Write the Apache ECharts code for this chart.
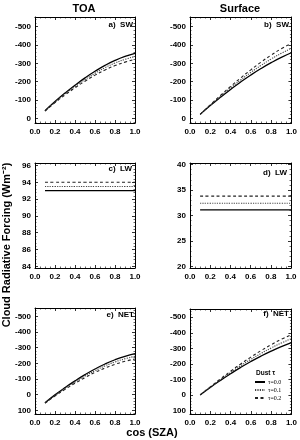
<!DOCTYPE html>
<html>
<head>
<meta charset="utf-8">
<script src="https://cdn.jsdelivr.net/npm/echarts@6/dist/echarts.min.js"></script>
<style>
  html, body { margin: 0; padding: 0; background: #fff; }
  #chart { width: 300px; height: 440px; }
</style>
</head>
<body>
<div id="chart"></div>
<script>
// 云辐射强迫随 cos(SZA) 的变化，三种沙尘光学厚度
const XS = [0.1, 0.2, 0.3, 0.4, 0.5, 0.6, 0.7, 0.8, 0.9, 1.0];
const TAU = ['τ=0.0', 'τ=0.1', 'τ=0.2'];

const SW_TOA = [
  [-42, -92, -138, -181, -221, -257, -289, -316, -338, -355],
  [-41, -89, -133, -174, -212, -246, -277, -302, -322, -338],
  [-40, -86, -128, -167, -203, -236, -264, -288, -307, -322],
];
const SW_SFC = [
  [-22, -70, -115, -158, -199, -237, -272, -304, -333, -358],
  [-22, -72, -120, -166, -210, -251, -289, -324, -355, -383],
  [-22, -74, -125, -174, -221, -265, -307, -345, -380, -410],
];
const LW_TOA = [
  [93.0, 93.0, 93.0, 93.0, 93.0, 93.0, 93.0, 93.0, 93.0, 93.0],
  [93.5, 93.5, 93.5, 93.5, 93.5, 93.5, 93.5, 93.5, 93.5, 93.5],
  [94.0, 94.0, 94.0, 94.0, 94.0, 94.0, 94.0, 94.0, 94.0, 94.0],
];
const LW_SFC = [
  [31.1, 31.1, 31.1, 31.1, 31.1, 31.1, 31.1, 31.1, 31.1, 31.1],
  [32.4, 32.4, 32.4, 32.4, 32.4, 32.4, 32.4, 32.4, 32.4, 32.4],
  [33.8, 33.8, 33.8, 33.8, 33.8, 33.8, 33.8, 33.8, 33.8, 33.8],
];
const NET_TOA = [
  [51, 1, -45, -88, -128, -164, -196, -223, -245, -262],
  [53, 5, -40, -81, -119, -153, -184, -209, -229, -245],
  [54, 8, -34, -73, -109, -142, -170, -194, -213, -228],
];
const NET_SFC = [
  [0, -48, -93, -136, -177, -215, -250, -282, -311, -337],
  [0, -50, -98, -144, -188, -229, -267, -302, -334, -362],
  [0, -52, -103, -152, -199, -243, -285, -323, -358, -388],
];

const X_TICKS = [0, 1, 0.2];

// 面板布局与纵轴范围
const panels = [
  { data: SW_TOA,  label: 'a)  SW',  y: [-553, 25],    split: 5, step: 100, inverse: true,
    grid: { left: 35, top: 17, width: 100, height: 106 }, lab: [133, 25] },
  { data: SW_SFC,  label: 'b)  SW',  y: [-553, 25],    split: 5, step: 100, inverse: true,
    grid: { left: 190, top: 17, width: 102, height: 106 }, lab: [289, 25] },
  { data: LW_TOA,  label: 'c)  LW',  y: [83.8, 96.3],  split: 6, step: 2, inverse: false,
    grid: { left: 35, top: 163, width: 100, height: 105 }, lab: [132, 169] },
  { data: LW_SFC,  label: 'd)  LW',  y: [19.7, 40.3],  split: 4, step: 5, inverse: false,
    grid: { left: 190, top: 163, width: 101, height: 105 }, lab: [287, 173] },
  { data: NET_TOA, label: 'e)  NET', y: [-553, 123],   split: 6, step: 100, inverse: true,
    grid: { left: 35, top: 308, width: 100, height: 106 }, lab: [134, 315] },
  { data: NET_SFC, label: 'f)  NET', y: [-553, 123],   split: 6, step: 100, inverse: true,
    grid: { left: 190, top: 309, width: 102, height: 105 }, lab: [289, 314] },
];

const LINE_TYPES = ['solid', [1.2, 1.2], [3, 2.5]];
const LINE_COLORS = ['#000', '#444', '#222'];
const FONT = 'Liberation Sans, Arial, sans-serif';

const axisLine = { show: true, onZero: false, lineStyle: { color: '#000', width: 1 } };
const tick = { show: true, inside: true, length: 3, lineStyle: { color: '#000', width: 0.8 } };
const minor = { show: true, splitNumber: 5, length: 1.5, lineStyle: { color: '#000', width: 0.6 } };
const tickLabel = { color: '#000', fontSize: 8, fontWeight: 'bold', fontFamily: FONT };

const grid = [], xAxis = [], yAxis = [], series = [], graphic = [];

panels.forEach((p, pi) => {
  grid.push(Object.assign({ containLabel: false }, p.grid));
  const xBase = {
    type: 'value', gridIndex: pi, min: X_TICKS[0], max: X_TICKS[1], interval: X_TICKS[2],
    axisLine, axisTick: tick, minorTick: Object.assign({}, minor, { splitNumber: 4 }),
    splitLine: { show: false }, minorSplitLine: { show: false },
  };
  xAxis.push(Object.assign({}, xBase, {
    position: 'bottom',
    axisLabel: Object.assign({ margin: 5, formatter: v => v.toFixed(1) }, tickLabel),
  }));
  xAxis.push(Object.assign({}, xBase, { position: 'top', axisLabel: { show: false } }));

  const yBase = {
    type: 'value', gridIndex: pi, min: p.y[0], max: p.y[1], splitNumber: p.split,
    inverse: p.inverse, scale: true,
    axisLine, axisTick: tick, minorTick: minor,
    splitLine: { show: false }, minorSplitLine: { show: false },
  };
  yAxis.push(Object.assign({}, yBase, {
    position: 'left',
    axisLabel: Object.assign({
      margin: 4,
      showMinLabel: true, showMaxLabel: true,
      formatter: v => Math.abs(v / p.step - Math.round(v / p.step)) < 1e-6 ? String(Math.round(v)) : '',
    }, tickLabel),
  }));
  yAxis.push(Object.assign({}, yBase, { position: 'right', axisLabel: { show: false } }));

  p.data.forEach((vals, i) => {
    series.push({
      name: TAU[i], type: 'line', xAxisIndex: pi * 2, yAxisIndex: pi * 2,
      data: XS.map((x, k) => [x, vals[k]]),
      smooth: true, symbol: 'none', silent: true,
      lineStyle: { color: LINE_COLORS[i], width: i === 0 ? 1.3 : 1.1, type: LINE_TYPES[i] },
      itemStyle: { color: LINE_COLORS[i] },
    });
  });

  graphic.push({
    type: 'text', x: p.lab[0], y: p.lab[1],
    style: { text: p.label, fill: '#000', font: 'bold 8px ' + FONT, align: 'right', verticalAlign: 'middle' },
  });
});

graphic.push(
  { type: 'text', x: 84, y: 9,
    style: { text: 'TOA', fill: '#000', font: 'bold 11px ' + FONT, align: 'center', verticalAlign: 'middle' } },
  { type: 'text', x: 240, y: 9,
    style: { text: 'Surface', fill: '#000', font: 'bold 11px ' + FONT, align: 'center', verticalAlign: 'middle' } },
  { type: 'text', x: 152, y: 433,
    style: { text: 'cos (SZA)', fill: '#000', font: 'bold 11px ' + FONT, align: 'center', verticalAlign: 'middle' } },
  { type: 'text', x: 7, y: 245, rotation: Math.PI / 2,
    style: { text: 'Cloud Radiative Forcing (Wm⁻²)', fill: '#000', font: 'bold 11px ' + FONT,
             align: 'center', verticalAlign: 'middle' } },
  { type: 'text', x: 256, y: 373,
    style: { text: 'Dust τ', fill: '#000', font: 'bold 6.5px ' + FONT, align: 'left', verticalAlign: 'middle' } }
);

const chart = echarts.init(document.getElementById('chart'), null, { renderer: 'canvas' });
chart.setOption({
  backgroundColor: '#fff',
  animation: false,
  grid, xAxis, yAxis, series, graphic,
  legend: {
    data: TAU, orient: 'vertical', left: 254, top: 379,
    itemWidth: 10, itemHeight: 6, itemGap: 2, padding: 0,
    selectedMode: false,
    itemStyle: { opacity: 0 },
    textStyle: { color: '#000', fontSize: 6, fontFamily: 'Liberation Serif, serif', padding: [0, 0, 0, -2] },
  },
});
</script>
</body>
</html>
